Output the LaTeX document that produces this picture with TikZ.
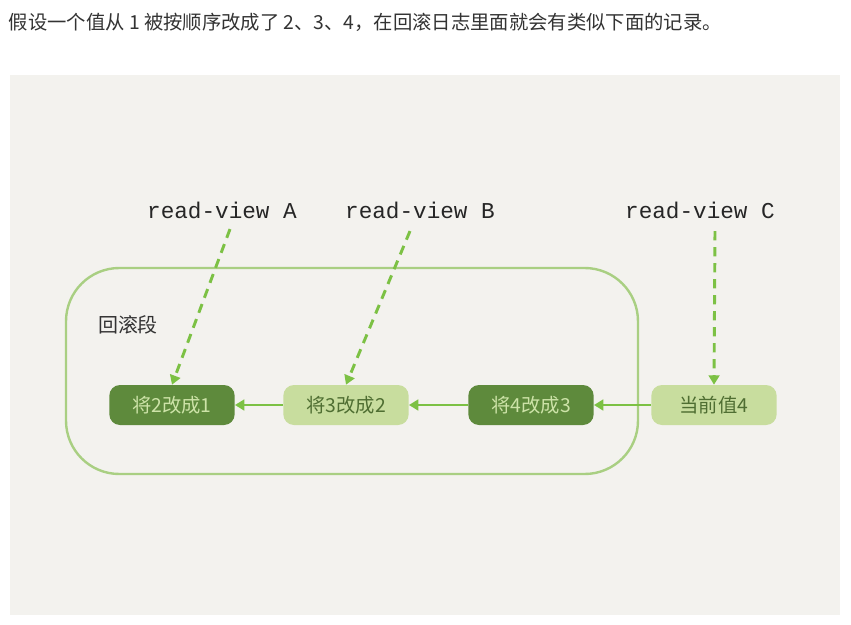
\documentclass[tikz,border=0pt]{standalone}
\usepackage{fontspec}
\setmainfont{Noto Sans CJK SC}
\newfontfamily\hand{Liberation Mono}
\usetikzlibrary{arrows.meta}
\definecolor{panelbg}{HTML}{F3F2EE}
\definecolor{darkgreen}{HTML}{5E8A3C}
\definecolor{lightgreen}{HTML}{C8DD9E}
\definecolor{paletext}{HTML}{CDE3A8}
\definecolor{deeptext}{HTML}{4F6E32}
\definecolor{linkgreen}{HTML}{7CC144}
\definecolor{ringgreen}{HTML}{A9CF82}
\begin{document}
\begin{tikzpicture}[x=0.75pt,y=-0.75pt,
    step box/.style={rectangle, rounded corners=8pt, minimum width=94pt, minimum height=30pt, inner sep=2pt, font=\fontsize{14.5}{16}\selectfont},
    old/.style={step box, fill=darkgreen, text=paletext},
    new/.style={step box, fill=lightgreen, text=deeptext},
    view/.style={font=\hand\fontsize{17}{19}\selectfont, text=black!85},
    link/.style={-{Triangle[length=7pt,width=8pt]}, line width=2.2pt, draw=linkgreen},
    peek/.style={-{Triangle[length=7pt,width=8pt]}, line width=2.2pt, draw=linkgreen, dash pattern=on 7pt off 5pt}
]
    \useasboundingbox (0,0) rectangle (851,625);
    \fill[white] (0,0) rectangle (851,625);
    \node[anchor=west, font=\fontsize{14.5}{16}\selectfont, text=black!80] (intro) at (4,22) {假设一个值从 1 被按顺序改成了 2、3、4，在回滚日志里面就会有类似下面的记录。};
    \fill[panelbg] (10,75) rectangle (840,615);
    % rollback segment
    \draw[ringgreen, line width=1.8pt, rounded corners=40pt] (66,268) rectangle (638,474);
    \node[font=\fontsize{15}{17}\selectfont, text=black!80] (seg) at (128,325) {回滚段};
    % undo log chain
    \node[old] (s1) at (172,405) {将2改成1};
    \node[new] (s2) at (346,405) {将3改成2};
    \node[old] (s3) at (531,405) {将4改成3};
    \node[new] (s4) at (714,405) {当前值4};
    \draw[link] (s4) -- (s3);
    \draw[link] (s3) -- (s2);
    \draw[link] (s2) -- (s1);
    % read views
    \node[view] (va) at (222,210) {read-view A};
    \node[view] (vb) at (420,210) {read-view B};
    \node[view] (vc) at (700,210) {read-view C};
    \draw[peek] (va.south) ++(8,6) -- (s1.north);
    \draw[peek] (vb.south) ++(-10,8) -- (s2.north);
    \draw[peek] (vc.south) ++(15,8) -- (s4.north);
\end{tikzpicture}
\end{document}
